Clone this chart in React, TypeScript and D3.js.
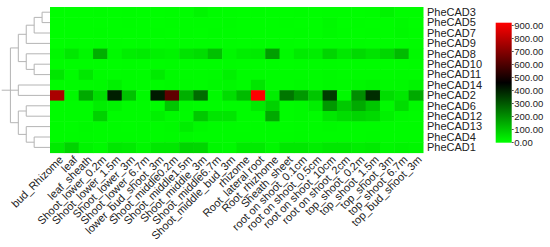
import React from "react";
import * as d3 from "d3";

const columns = [
  "bud_Rhizome", "leaf", "leaf_sheath", "Shoot_lower_0.2m", "Shoot_lower_1.5m",
  "Shoot_lower_3m", "Shoot_lower_6.7m", "lower_bud_shoot_3m", "Shoot_middle0.2m",
  "Shoot_middle1.5m", "Shoot_middle_3m", "Shoot_middle6.7m", "Shoot_middle_bud_3m",
  "rhizome", "Root_lateral root", "Root_rhizhome", "Sheath_sheet",
  "root on shoot_0.1cm", "root on shoot_0.5cm", "root on shoot_10cm", "root on shoot_2cm",
  "top_shoot_0.2m", "top_shoot_1.5m", "top_shoot_3m", "top_shoot_6.7m", "top_bud_shoot_3m",
];

const rows = [
  "PheCAD3", "PheCAD5", "PheCAD7", "PheCAD9", "PheCAD8", "PheCAD10", "PheCAD11",
  "PheCAD14", "PheCAD2", "PheCAD6", "PheCAD12", "PheCAD13", "PheCAD4", "PheCAD1",
];

const cad3 = [2, 1, 2, 3, 2, 3, 2, 2, 3, 4, 18, 5, 3, 2, 3, 2, 2, 3, 2, 4, 3, 2, 3, 20, 4, 3];
const cad5 = [2, 2, 1, 2, 2, 3, 2, 2, 3, 3, 4, 3, 5, 2, 2, 2, 3, 2, 2, 10, 2, 3, 2, 4, 8, 2];
const cad7 = [1, 2, 2, 3, 2, 2, 2, 3, 2, 3, 2, 6, 3, 2, 2, 2, 2, 3, 2, 8, 3, 2, 3, 3, 10, 3];
const cad9 = [2, 3, 2, 4, 3, 2, 3, 2, 4, 3, 3, 4, 3, 2, 3, 2, 3, 2, 4, 3, 3, 4, 2, 3, 3, 6];
const cad8 = [15, 40, 15, 140, 10, 30, 35, 25, 20, 50, 60, 110, 15, 30, 35, 170, 10, 35, 30, 75, 40, 65, 50, 70, 120, 10];
const cad10 = [5, 3, 4, 3, 2, 3, 2, 3, 5, 3, 4, 3, 6, 3, 4, 3, 2, 4, 3, 5, 3, 4, 3, 4, 3, 5];
const cad11 = [45, 5, 40, 6, 4, 5, 4, 35, 8, 6, 5, 7, 25, 6, 5, 4, 5, 6, 5, 8, 6, 5, 6, 5, 7, 6];
const cad14 = [6, 5, 7, 8, 25, 6, 5, 6, 8, 7, 6, 10, 12, 5, 45, 6, 5, 8, 6, 10, 8, 15, 20, 8, 10, 20];
const cad2 = [750, 10, 150, 60, 395, 110, 8, 405, 620, 140, 260, 8, 60, 120, 900, 30, 240, 180, 100, 345, 10, 200, 370, 60, 40, 150];
const cad6 = [6, 5, 6, 30, 20, 6, 5, 6, 100, 8, 6, 5, 6, 5, 35, 80, 6, 8, 30, 180, 95, 150, 100, 10, 60, 8];
const cad12 = [6, 5, 6, 80, 6, 5, 6, 25, 8, 7, 95, 45, 45, 6, 5, 150, 6, 8, 6, 40, 60, 75, 65, 25, 8, 6];
const cad13 = [5, 4, 8, 6, 5, 4, 5, 6, 8, 30, 10, 6, 5, 4, 6, 5, 4, 6, 5, 8, 6, 5, 6, 5, 6, 5];
const cad4 = [6, 5, 7, 6, 5, 6, 5, 6, 7, 8, 6, 5, 6, 5, 6, 5, 6, 7, 5, 6, 5, 6, 7, 5, 6, 5];
const cad1 = [35, 75, 20, 10, 40, 35, 15, 40, 40, 75, 70, 15, 10, 35, 35, 15, 40, 40, 30, 40, 40, 30, 35, 15, 20, 15];

const matrix = [cad3, cad5, cad7, cad9, cad8, cad10, cad11, cad14, cad2, cad6, cad12, cad13, cad4, cad1];

const legendTicks = [0, 100, 200, 300, 400, 500, 600, 700, 800, 900];

type Node = string | { h: number; children: Node[] };

const tree: Node = {
  h: 5,
  children: [
    {
      h: 4,
      children: [
        { h: 3, children: [{ h: 2, children: [{ h: 1, children: ["PheCAD3", "PheCAD5"] }, "PheCAD7"] }, "PheCAD9"] },
        { h: 3, children: ["PheCAD8", { h: 2, children: ["PheCAD10", "PheCAD11"] }] },
      ],
    },
    { h: 4, children: ["PheCAD14", "PheCAD2"] },
    {
      h: 4,
      children: [
        { h: 3, children: ["PheCAD6", "PheCAD12"] },
        { h: 3, children: ["PheCAD13", { h: 2, children: ["PheCAD4", "PheCAD1"] }] },
      ],
    },
  ],
};
const treeRootStub = 6.1;

const FONT = "'Liberation Sans', Arial, sans-serif";

export default function App() {
  const left = 50, right = 423, top = 7, bottom = 152.6;
  const x = d3.scaleBand<string>().domain(columns).range([left, right]);
  const y = d3.scaleBand<string>().domain(rows).range([top, bottom]);
  const color = d3.scaleLinear<string>().domain([0, 450, 900]).range(["#00ff00", "#000000", "#ff0000"]);
  const hx = d3.scaleLinear().domain([0, treeRootStub]).range([left, 1.7]);

  const segs: { x1: number; y1: number; x2: number; y2: number }[] = [];
  function layout(n: Node): { px: number; py: number } {
    if (typeof n === "string") return { px: hx(0), py: (y(n) as number) + y.bandwidth() / 2 };
    const kids = n.children.map(layout);
    const nx = hx(n.h);
    kids.forEach((k) => segs.push({ x1: nx, y1: k.py, x2: k.px, y2: k.py }));
    const ys = kids.map((k) => k.py);
    segs.push({ x1: nx, y1: Math.min(...ys), x2: nx, y2: Math.max(...ys) });
    let py: number;
    if (ys.length % 2 === 1) py = ys[Math.floor(ys.length / 2)];
    else py = (ys[ys.length / 2 - 1] + ys[ys.length / 2]) / 2;
    return { px: nx, py };
  }
  const rootPos = layout(tree);
  segs.push({ x1: hx(treeRootStub), y1: rootPos.py, x2: rootPos.px, y2: rootPos.py });

  const barX = 495.7, barW = 16, barTop = 22.7, barBottom = 142.7;
  const ly = d3.scaleLinear().domain([0, 900]).range([142.5, 25.5]);

  return (
    <svg width={550} height={247} style={{ position: "absolute", left: 0, top: 0, background: "#fff" }}>
      <defs>
        <linearGradient id="lg" x1="0" y1="1" x2="0" y2="0">
          <stop offset="0%" stopColor="#00ff00" />
          <stop offset="50%" stopColor="#000000" />
          <stop offset="100%" stopColor="#ff0000" />
        </linearGradient>
      </defs>
      <g>
        {matrix.map((row, i) =>
          row.map((v, j) => (
            <rect
              key={`${i}-${j}`}
              x={x(columns[j])}
              y={y(rows[i])}
              width={x.bandwidth() + 0.5}
              height={y.bandwidth() + 0.5}
              fill={color(v)}
            />
          ))
        )}
      </g>
      <g stroke="#b4b4b4" strokeWidth={1} fill="none">
        {segs.map((s, i) => (
          <line key={i} x1={s.x1} y1={s.y1} x2={s.x2} y2={s.y2} />
        ))}
      </g>
      <g fontFamily={FONT} fontSize={11} fill="#222">
        {rows.map((r) => (
          <text key={r} x={right + 4} y={(y(r) as number) + y.bandwidth() / 2} dy="0.35em">
            {r}
          </text>
        ))}
        {columns.map((c) => {
          const cx = (x(c) as number) + x.bandwidth() / 2 + 4;
          const cy = bottom + 5;
          return (
            <text key={c} transform={`translate(${cx},${cy}) rotate(-45)`} textAnchor="end" dy="0.35em">
              {c}
            </text>
          );
        })}
      </g>
      <rect x={barX} y={barTop} width={barW} height={barBottom - barTop} fill="url(#lg)" />
      <g fontFamily={FONT} fontSize={9.5} fill="#222">
        {legendTicks.map((t) => (
          <g key={t}>
            <line x1={barX + barW} x2={barX + barW + 2} y1={ly(t)} y2={ly(t)} stroke="#555" />
            <text x={barX + barW + 2.5} y={ly(t)} dy="0.35em">
              {t.toFixed(2)}
            </text>
          </g>
        ))}
      </g>
    </svg>
  );
}
